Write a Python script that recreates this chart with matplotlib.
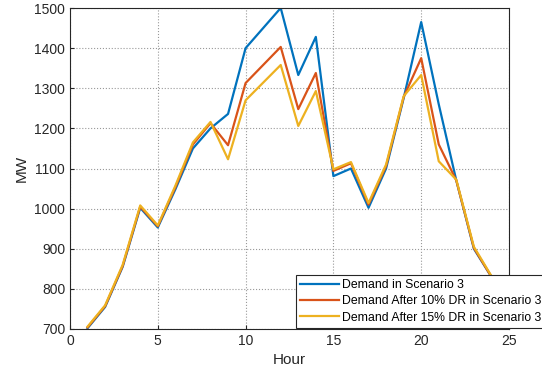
import matplotlib.pyplot as plt

plt.rcParams['font.family'] = ['Liberation Sans', 'DejaVu Sans']

# hourly demand (MW)
hours = list(range(1, 25))
demand = [702, 755, 855, 1002, 953, 1048, 1150, 1200, 1236, 1400, 1450, 1500,
          1333, 1428, 1081, 1100, 1002, 1100, 1275, 1465, 1260, 1070, 900, 830]
demand_dr10 = [704, 757, 857, 1005, 956, 1053, 1160, 1213, 1158, 1313, 1358, 1403,
               1248, 1338, 1094, 1113, 1010, 1106, 1278, 1375, 1160, 1070, 902, 830]
demand_dr15 = [706, 759, 860, 1008, 958, 1057, 1165, 1216, 1123, 1270, 1314, 1358,
               1206, 1293, 1098, 1116, 1014, 1110, 1280, 1333, 1118, 1072, 905, 832]

labels = ['Demand in Scenario 3',
          'Demand After 10% DR in Scenario 3',
          'Demand After 15% DR in Scenario 3']
colors = ['#0072BD', '#D95319', '#EDB120']

fig = plt.figure(figsize=(5.42, 3.72), dpi=100)
ax = fig.add_axes([70 / 542, 1 - 329 / 372, 439 / 542, 321 / 372])

for y, lab, c in zip([demand, demand_dr10, demand_dr15], labels, colors):
    ax.plot(hours, y, color=c, lw=1.6, label=lab)

ax.set_xlim(0, 25)
ax.set_ylim(700, 1500)
ax.set_xticks(range(0, 26, 5))
ax.set_yticks(range(700, 1501, 100))
ax.grid(True, ls=':', color='#999999', lw=0.8)
ax.tick_params(labelsize=10, colors='#262626', direction='in', length=3)
for s in ax.spines.values():
    s.set_color('#262626')
    s.set_linewidth(0.8)
ax.set_xlabel('Hour', fontsize=11, color='#262626')
ax.set_ylabel('MW', fontsize=11, color='#262626')

# legend box runs past the right edge of the figure
leg = ax.legend(loc='upper left', bbox_to_anchor=(296 / 542, 1 - 275 / 372),
                bbox_transform=fig.transFigure, fontsize=8.8, fancybox=False,
                framealpha=1, edgecolor='#262626', borderpad=0.35,
                labelspacing=0.34, handlelength=3.2, handletextpad=0.25,
                borderaxespad=0)
leg.get_frame().set_linewidth(0.8)

fig.savefig('out.png', dpi=100)
